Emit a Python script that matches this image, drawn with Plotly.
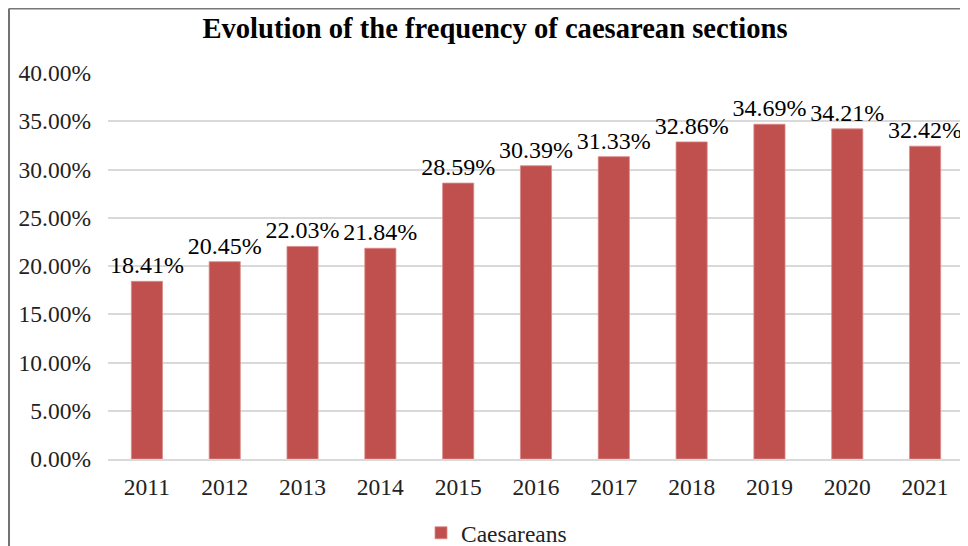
import plotly.graph_objects as go

years = ["2011", "2012", "2013", "2014", "2015", "2016", "2017", "2018", "2019", "2020", "2021"]
caesareans = [18.41, 20.45, 22.03, 21.84, 28.59, 30.39, 31.33, 32.86, 34.69, 34.21, 32.42]
y_ticks = [0, 5, 10, 15, 20, 25, 30, 35, 40]

FONT = "Liberation Serif"
LABEL_FONT = "Times New Roman, Liberation Serif, serif"
OFF = 8  # page body margin
W, H = 960, 538
L, R, T, B = 100, 4, 65, 87
pw = W - L - R
ph = H - T - B

def px_x(x):
    return (x - OFF - L) / pw

def px_y(y):
    return (H - B - (y - OFF)) / ph

label_font = dict(family=LABEL_FONT, size=24, color="#000000")

fig = go.Figure()
fig.add_trace(go.Bar(
    x=years,
    y=[v / 100 for v in caesareans],
    name="Caesareans",
    marker=dict(color="#C0504D", line=dict(color="#D98A88", width=0.8)),
    text=[f"{v:.2f}%" for v in caesareans],
    textposition="outside",
    constraintext="none",
    textfont=label_font,
    outsidetextfont=label_font,
    cliponaxis=False,
    showlegend=True,
))

fig.update_layout(
    width=W, height=H,
    font=dict(family=FONT),
    margin=dict(l=L, r=R, t=T, b=B, autoexpand=False),
    paper_bgcolor="white",
    plot_bgcolor="white",
    bargap=0.6,
    title=dict(
        text="<b>Evolution of the frequency of caesarean sections</b>",
        font=dict(family=FONT, size=28.6, color="#000000"),
        x=px_x(495), xanchor="center", xref="paper",
        y=1 - (28 - OFF) / H, yanchor="middle",
    ),
    xaxis=dict(
        tickfont=dict(family=FONT, size=23.5, color="#222222"),
        showgrid=False,
        showline=True, linecolor="#D9D9D9", linewidth=1.5,
        ticks="",
        ticklabelstandoff=6,
    ),
    yaxis=dict(
        range=[0, 0.40],
        tickvals=[v / 100 for v in y_ticks],
        tickformat=".2%",
        tickfont=dict(family=FONT, size=23.5, color="#222222"),
        showgrid=True, gridcolor="#D9D9D9", gridwidth=1.5,
        zeroline=False,
        showline=False,
        ticks="",
        ticklabelstandoff=16,
    ),
    legend=dict(
        orientation="h",
        x=px_x(421), xanchor="left",
        y=px_y(533), yanchor="middle",
        font=dict(family=FONT, size=23.5, color="#222222"),
        itemwidth=30,
    ),
    shapes=[
        dict(type="line", xref="paper", yref="paper",
             x0=px_x(9), x1=px_x(9), y0=px_y(560), y1=px_y(8.5),
             line=dict(color="#444444", width=1.5)),
        dict(type="line", xref="paper", yref="paper",
             x0=px_x(9), x1=px_x(975), y0=px_y(8.5), y1=px_y(8.5),
             line=dict(color="#777777", width=2)),
    ],
)

fig.write_html("out.html")
